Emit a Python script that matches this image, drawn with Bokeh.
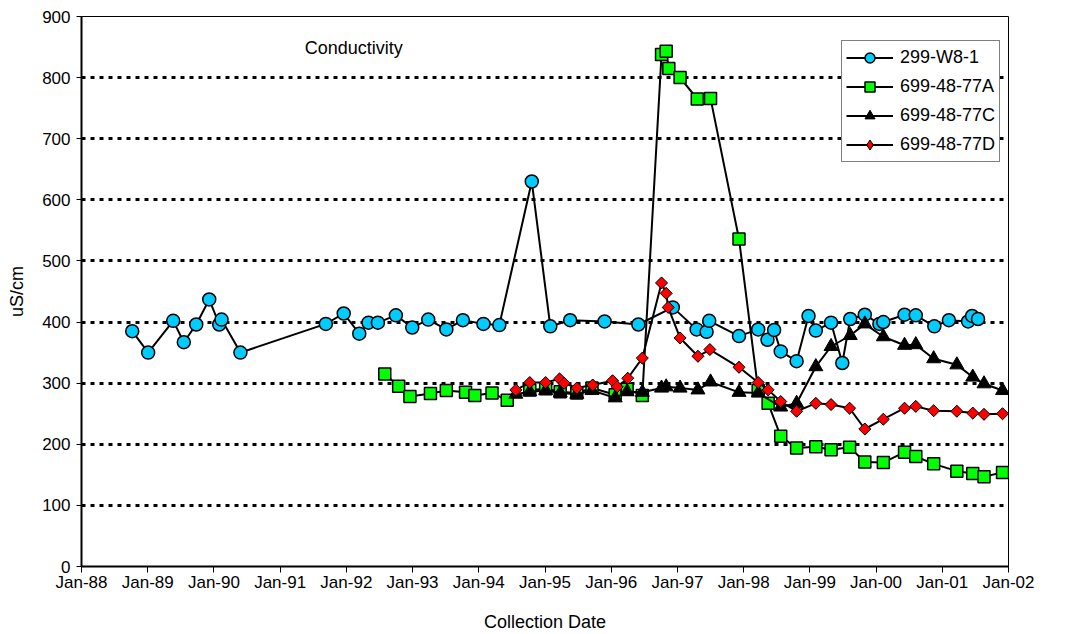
from bokeh.plotting import figure
from bokeh.models import FixedTicker, Legend, LegendItem, Range1d, Label, ColumnDataSource
from bokeh.embed import file_html
from bokeh.resources import INLINE

# ---- data (decimal years, uS/cm) ----
w8_dates = [1988.766, 1989.007, 1989.385, 1989.545, 1989.733, 1989.929, 1990.080, 1990.115,
            1990.400, 1991.690, 1991.960, 1992.195, 1992.335, 1992.476, 1992.748, 1992.995,
            1993.237, 1993.510, 1993.760, 1994.070, 1994.310, 1994.800, 1995.080, 1995.380,
            1995.900, 1996.410, 1996.930, 1997.290, 1997.440, 1997.480, 1997.930, 1998.220,
            1998.360, 1998.460, 1998.560, 1998.800, 1998.980, 1999.090, 1999.320, 1999.490,
            1999.610, 1999.830, 2000.050, 2000.110, 2000.430, 2000.600, 2000.880, 2001.100,
            2001.390, 2001.450, 2001.540]
w8_vals = [385, 350, 402, 367, 396, 437, 396, 404,
           350, 397, 414, 381, 399, 399, 411, 391,
           404, 388, 403, 397, 395, 630, 393, 403,
           401, 396, 424, 388, 384, 402, 377, 388,
           371, 387, 352, 336, 410, 386, 399, 333,
           405, 412, 397, 400, 412, 411, 393, 403,
           401, 410, 405]

a_dates = [1992.58, 1992.79, 1992.96, 1993.27, 1993.51, 1993.80, 1993.94, 1994.20,
           1994.43, 1994.77, 1995.01, 1995.23, 1995.48, 1995.71, 1996.06, 1996.24,
           1996.47, 1996.76, 1996.83, 1996.87, 1997.04, 1997.30, 1997.50, 1997.93,
           1998.22, 1998.37, 1998.56, 1998.80, 1999.09, 1999.32, 1999.60, 1999.83,
           2000.11, 2000.43, 2000.60, 2000.87, 2001.22, 2001.46, 2001.63, 2001.91]
a_vals = [315, 295, 278, 283, 288, 285, 280, 284,
          272, 289, 291, 286, 284, 292, 281, 290,
          280, 838, 843, 815, 800, 765, 766, 536,
          288, 267, 213, 194, 196, 191, 195, 171,
          170, 187, 180, 168, 156, 152, 147, 154]

c_dates = [1994.56, 1994.77, 1995.01, 1995.23, 1995.48, 1995.71, 1996.06, 1996.24,
           1996.47, 1996.76, 1996.83, 1997.04, 1997.31, 1997.50, 1997.93, 1998.22,
           1998.56, 1998.80, 1999.09, 1999.32, 1999.61, 1999.83, 2000.11, 2000.43,
           2000.60, 2000.87, 2001.22, 2001.46, 2001.63, 2001.91]
c_vals = [282, 286, 288, 284, 282, 288, 276, 286,
          285, 292, 294, 292, 289, 302, 285, 284,
          261, 267, 327, 360, 378, 397, 376, 362,
          363, 340, 330, 310, 299, 288]

d_dates = [1994.56, 1994.77, 1995.01, 1995.22, 1995.29, 1995.48, 1995.72, 1996.02,
           1996.09, 1996.25, 1996.47, 1996.76, 1996.83, 1996.86, 1997.04, 1997.31,
           1997.49, 1997.93, 1998.22, 1998.37, 1998.56, 1998.80, 1999.09, 1999.32,
           1999.60, 1999.83, 2000.11, 2000.43, 2000.60, 2000.87, 2001.22, 2001.46,
           2001.63, 2001.91]
d_vals = [289, 301, 301, 307, 300, 292, 297, 304,
          294, 308, 341, 464, 447, 424, 374, 344,
          355, 326, 301, 289, 270, 254, 267, 265,
          259, 225, 241, 259, 262, 255, 254, 251,
          249, 250]

x_ticks = list(range(1988, 2003))
x_labels = ["Jan-88", "Jan-89", "Jan-90", "Jan-91", "Jan-92", "Jan-93", "Jan-94", "Jan-95",
            "Jan-96", "Jan-97", "Jan-98", "Jan-99", "Jan-00", "Jan-01", "Jan-02"]
y_ticks = [0, 100, 200, 300, 400, 500, 600, 700, 800, 900]

FONT = "Liberation Sans"

p = figure(width=1049, height=634, x_range=Range1d(1988, 2002), y_range=Range1d(0, 900),
           output_backend="svg", toolbar_location=None,
           min_border_left=81, min_border_right=41, min_border_top=16, min_border_bottom=68)

p.background_fill_color = "white"
p.border_fill_color = "white"
p.outline_line_color = "black"
p.outline_line_width = 1

p.xgrid.visible = False
p.ygrid.ticker = FixedTicker(ticks=y_ticks)
p.ygrid.grid_line_color = "black"
p.ygrid.grid_line_width = 3
p.ygrid.grid_line_dash = "4 5"

p.xaxis.ticker = FixedTicker(ticks=x_ticks)
p.xaxis.major_label_overrides = {t: l for t, l in zip(x_ticks, x_labels)}
p.yaxis.ticker = FixedTicker(ticks=y_ticks)
for ax in (p.xaxis, p.yaxis):
    ax.axis_line_color = "black"
    ax.axis_line_width = 2
    ax.major_tick_line_color = "black"
    ax.major_tick_line_width = 1
    ax.major_tick_in = 0
    ax.minor_tick_line_color = None
    ax.major_label_text_font = FONT
    ax.major_label_text_color = "black"
    ax.axis_label_text_font = FONT
    ax.axis_label_text_font_style = "normal"
    ax.axis_label_text_color = "black"
    ax.axis_label_text_font_size = "18px"

p.xaxis.major_tick_out = 6
p.xaxis.major_label_standoff = 0
p.xaxis.major_label_text_font_size = "17px"
p.xaxis.axis_label = "Collection Date"
p.xaxis.axis_label_standoff = 17

p.yaxis.major_tick_out = 5
p.yaxis.major_label_standoff = 6
p.yaxis.major_label_text_font_size = "17px"
p.yaxis.axis_label = "uS/cm"
p.yaxis.axis_label_standoff = 12

items = []
series = [
    ("299-W8-1", w8_dates, w8_vals, dict(marker="circle", size=13, fill_color="#00CCFF", line_width=1.5), None),
    ("699-48-77A", a_dates, a_vals, dict(marker="square", size=12, fill_color="#00FF00", line_width=1.5), None),
    ("699-48-77C", c_dates, c_vals, dict(marker="triangle", size=14, fill_color="black", line_width=1), None),
    ("699-48-77D", d_dates, d_vals, dict(marker="square", size=8.5, angle=0.785398, fill_color="#FF0000", line_width=1),
     dict(marker="diamond", size=11, fill_color="#FF0000", line_width=1)),
]
for name, xs, ys, mk, legend_mk in series:
    src = ColumnDataSource(dict(x=xs, y=ys))
    ln = p.line("x", "y", source=src, line_color="black", line_width=2)
    if legend_mk is None:
        sc = p.scatter("x", "y", source=src, line_color="black", **mk)
        items.append(LegendItem(label=name, renderers=[ln, sc]))
    else:
        # small diamonds (used as the legend key) fully covered by the rotated squares
        key = p.scatter("x", "y", source=src, line_color="black", **legend_mk)
        p.scatter("x", "y", source=src, line_color="black", **mk)
        items.append(LegendItem(label=name, renderers=[ln, key]))

legend = Legend(items=items, location=(760, 404))
legend.label_text_font = FONT
legend.label_text_font_size = "18px"
legend.label_text_color = "black"
legend.glyph_width = 47
legend.glyph_height = 25
legend.label_height = 25
legend.label_standoff = 7
legend.spacing = 4
legend.padding = 4
legend.margin = 0
legend.border_line_color = "black"
legend.border_line_width = 1
legend.background_fill_color = "white"
legend.background_fill_alpha = 1
p.add_layout(legend)

p.add_layout(Label(x=1991.37, y=848, text="Conductivity", text_font=FONT,
                   text_font_size="18px", text_baseline="middle", text_align="left",
                   text_color="black"))

open("out.html", "w").write(file_html(p, INLINE))
